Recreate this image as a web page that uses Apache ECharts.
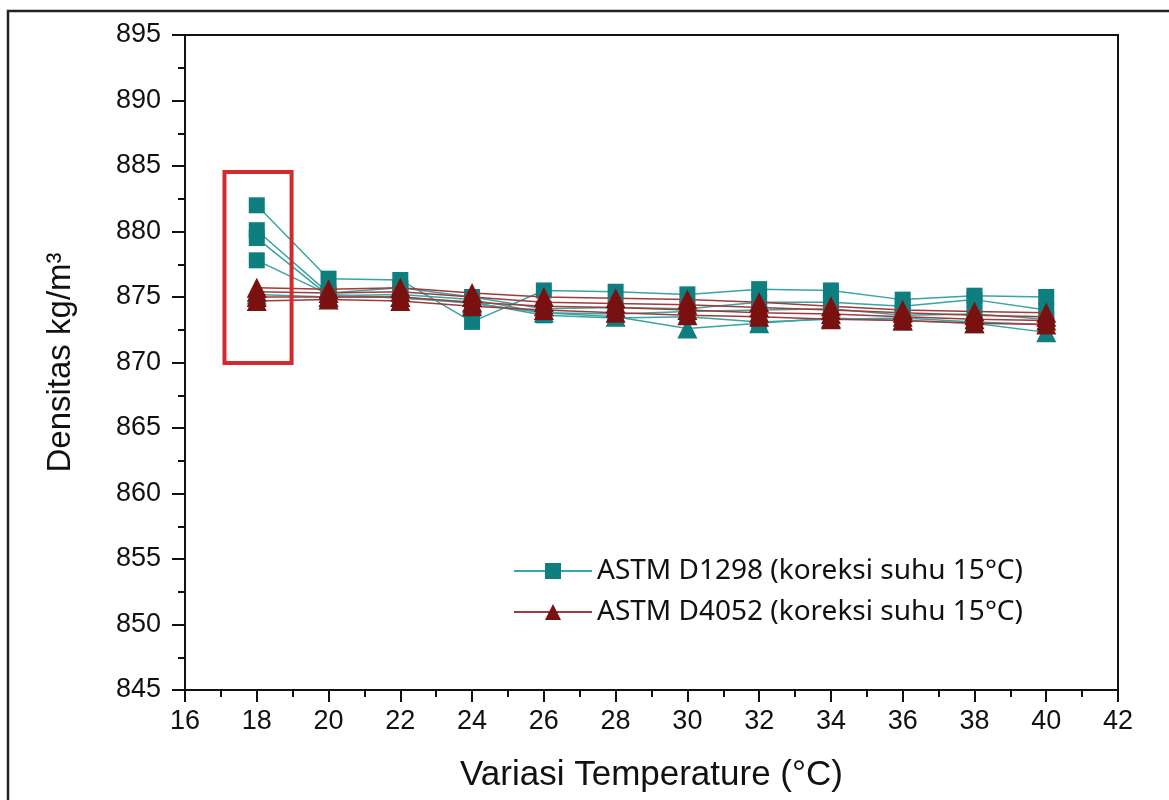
<!DOCTYPE html>
<html>
<head>
<meta charset="utf-8">
<script src="https://cdn.jsdelivr.net/npm/echarts@6/dist/echarts.min.js"></script>
<style>
html,body{margin:0;padding:0;background:#fff;}
#chart{width:1169px;height:800px;}
</style>
</head>
<body>
<div id="chart"></div>
<script>
// ---- data ----
var temps = [18, 20, 22, 24, 26, 28, 30, 32, 34, 36, 38, 40];
var d1298_a = [882.0, 876.4, 876.3, 873.1, 875.5, 875.4, 875.2, 875.6, 875.5, 874.8, 875.1, 875.0];
var d1298_b = [880.1, 875.3, 875.7, 875.0, 874.1, 874.2, 874.1, 874.6, 874.6, 874.3, 874.8, 874.0];
var d1298_c = [879.5, 875.1, 875.2, 874.8, 873.8, 873.7, 873.9, 874.0, 874.1, 873.6, 873.7, 873.3];
var d1298_d = [877.8, 875.2, 874.9, 874.6, 873.6, 873.4, 873.5, 873.1, 873.3, 873.4, 873.1, 872.9];
var d1298_e = [875.2, 875.0, 875.0, 874.5, 873.8, 873.5, 872.6, 873.0, 873.4, 873.2, 873.0, 872.3];
var d4052_a = [875.7, 875.6, 875.7, 875.3, 875.0, 874.9, 874.8, 874.6, 874.3, 874.0, 873.9, 873.8];
var d4052_b = [875.4, 875.3, 875.4, 875.0, 874.6, 874.5, 874.4, 874.2, 874.0, 873.8, 873.6, 873.5];
var d4052_c = [875.0, 875.0, 875.0, 874.6, 874.3, 874.2, 874.0, 873.8, 873.7, 873.5, 873.3, 873.2];
var d4052_d = [874.7, 874.8, 874.7, 874.3, 874.0, 873.8, 873.6, 873.5, 873.3, 873.2, 873.0, 872.9];
var xTicks = [16, 18, 20, 22, 24, 26, 28, 30, 32, 34, 36, 38, 40, 42];
var yTicks = [845, 850, 855, 860, 865, 870, 875, 880, 885, 890, 895];
var nameD1298 = 'ASTM D1298 (koreksi suhu 15°C)';
var nameD4052 = 'ASTM D4052 (koreksi suhu 15°C)';
// highlighted region (data units)
var boxX = [17.1, 18.97];
var boxY = [869.97, 884.55];

var TEAL = '#0f7e7e', TEAL_LINE = '#3aa3a3';
var RED = '#7a1111', RED_LINE = '#a33a3a';

function pairs(v){ return temps.map(function(t,i){ return [t, v[i]]; }); }
function tealSeries(name, v, sym){
  return {type:'line', name:name, data:pairs(v), symbol:sym, symbolSize: sym==='rect'?16:20,
    itemStyle:{color:TEAL}, lineStyle:{color:TEAL_LINE, width:1.5}, z:2};
}
function redSeries(name, v){
  return {type:'line', name:name, data:pairs(v), symbol:'triangle', symbolSize:20,
    itemStyle:{color:RED}, lineStyle:{color:RED_LINE, width:1.5}, z:3};
}

var chart = echarts.init(document.getElementById('chart'), null, {renderer:'canvas'});
var FONT = 'Liberation Sans';
chart.setOption({
  backgroundColor:'#fff',
  animation:false,
  grid:{left:185, top:35, right:51, bottom:110, show:true, borderColor:'#111', borderWidth:2, backgroundColor:'transparent'},
  legend:{
    data:[nameD1298, nameD4052],
    orient:'vertical', left:508, top:552, itemWidth:78, itemHeight:20, itemGap:13,
    textStyle:{fontFamily:'Noto Sans', fontSize:28, color:'#111'},
    selectedMode:false
  },
  xAxis:{
    type:'value', min:xTicks[0], max:xTicks[xTicks.length-1], interval:2,
    name:'Variasi Temperature (°C)', nameLocation:'middle', nameGap:68,
    nameTextStyle:{fontFamily:FONT, fontSize:35, color:'#111'},
    axisLine:{show:true, lineStyle:{color:'#111', width:2}},
    axisTick:{show:true, length:12, lineStyle:{color:'#111', width:2}},
    minorTick:{show:true, splitNumber:2, length:7, lineStyle:{color:'#111', width:2}},
    axisLabel:{fontFamily:FONT, fontSize:27, color:'#111', margin:18},
    splitLine:{show:false}
  },
  yAxis:{
    type:'value', min:yTicks[0], max:yTicks[yTicks.length-1], interval:5,
    name:'Densitas kg/m³', nameLocation:'middle', nameGap:108,
    nameTextStyle:{fontFamily:FONT, fontSize:33, color:'#111'},
    axisLine:{show:true, lineStyle:{color:'#111', width:2}},
    axisTick:{show:true, length:13, lineStyle:{color:'#111', width:2}},
    minorTick:{show:true, splitNumber:2, length:7, lineStyle:{color:'#111', width:2}},
    axisLabel:{fontFamily:FONT, fontSize:27, color:'#111', margin:24},
    splitLine:{show:false}
  },
  series:[
    tealSeries(nameD1298, d1298_a, 'rect'),
    tealSeries(nameD1298, d1298_b, 'rect'),
    tealSeries(nameD1298, d1298_c, 'rect'),
    tealSeries(nameD1298, d1298_d, 'rect'),
    tealSeries('D1298 rep', d1298_e, 'triangle'),
    redSeries(nameD4052, d4052_a),
    redSeries(nameD4052, d4052_b),
    redSeries(nameD4052, d4052_c),
    redSeries(nameD4052, d4052_d)
  ]
});

var p1 = chart.convertToPixel({gridIndex:0}, [boxX[0], boxY[1]]);
var p2 = chart.convertToPixel({gridIndex:0}, [boxX[1], boxY[0]]);
chart.setOption({
  graphic:[
    {type:'rect', shape:{x:8, y:11, width:1200, height:850}, style:{fill:'none', stroke:'#222', lineWidth:2.5}, z:0, silent:true},
    {type:'rect', shape:{x:p1[0], y:p1[1], width:p2[0]-p1[0], height:p2[1]-p1[1]}, style:{fill:'none', stroke:'#d12a2f', lineWidth:4}, z:10, silent:true}
  ]
});
</script>
</body>
</html>
